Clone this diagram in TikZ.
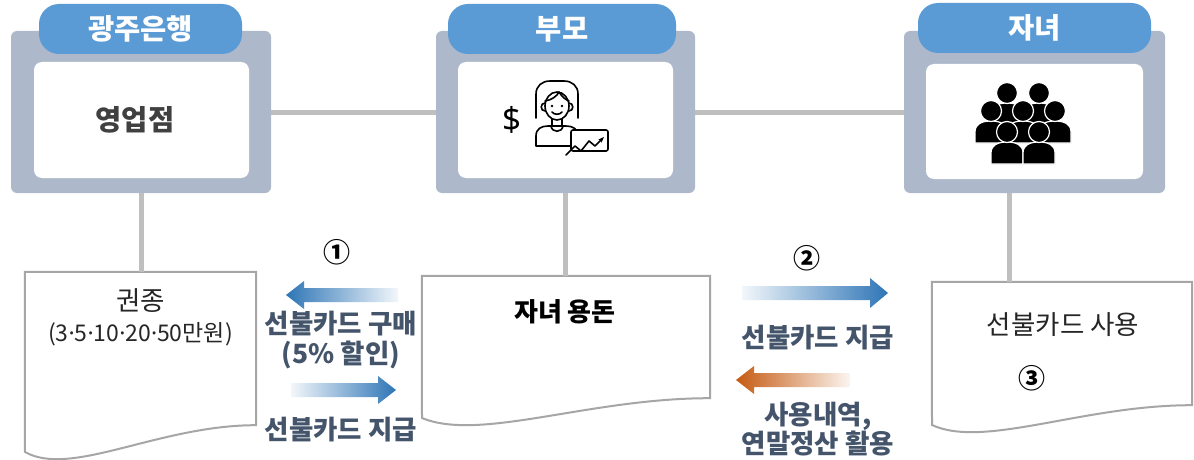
\documentclass[tikz,border=0pt]{standalone}
\usepackage{fontspec}
\newfontfamily\kr{Noto Sans CJK KR}
\newfontfamily\lat{Noto Sans}
\usetikzlibrary{arrows.meta}
\definecolor{boxgrey}{HTML}{ADB9CA}
\definecolor{tabblue}{HTML}{5B9BD5}
\definecolor{linegrey}{HTML}{BFBFBF}
\definecolor{docgrey}{HTML}{A6A6A6}
\definecolor{labelc}{HTML}{44546A}
\definecolor{arrblue}{HTML}{2E75B6}
\definecolor{arrorange}{HTML}{C55A11}
\definecolor{textdark}{HTML}{404040}
\tikzset{
  greybox/.style={fill=boxgrey, rounded corners=6pt, inner sep=0pt},
  tabbox/.style={fill=tabblue, rounded corners=20pt, inner sep=0pt, text=white,
    font=\kr\bfseries\fontsize{28.5}{32}\selectfont},
  innerbox/.style={fill=white, rounded corners=8pt, inner sep=0pt},
  boxtext/.style={text=textdark, font=\kr\bfseries\fontsize{28.5}{32}\selectfont},
  docbox/.style={inner sep=0pt},
  docline/.style={draw=docgrey, line width=2pt, fill=white},
  doctext/.style={font=\kr\fontsize{26.5}{31}\selectfont, text=black!85, align=center},
  docbold/.style={font=\kr\bfseries\fontsize{26}{31}\selectfont, text=black},
  label/.style={font=\kr\bfseries\fontsize{26.5}{30}\selectfont, text=labelc, align=center},
  stepnum/.style={font=\kr\bfseries\fontsize{27}{27}\selectfont, text=black},
  link/.style={draw=linegrey, line width=5pt},
  ic/.style={draw=black, line width=1.6pt, line cap=round, line join=round},
  person/.pic={
    \fill[black, draw=white, line width=1.2pt] (-16,32) -- (-16,21) .. controls (-16,13) and (-9,10) .. (0,10) .. controls (9,10) and (16,13) .. (16,21) -- (16,32) -- cycle;
    \fill[black, draw=white, line width=1.2pt] (0,0) circle (10.5);
  }
}
\newcommand\md{{\lat\mdseries·}}
\begin{document}
\begin{tikzpicture}[x=1pt,y=-1pt]
\useasboundingbox (0,0) rectangle (1194,460);
\fill[white] (0,0) rectangle (1194,460);

% grey boxes
\node[greybox, minimum width=260pt, minimum height=162pt] (b1) at (141,112) {};
\node[greybox, minimum width=259pt, minimum height=162pt] (b2) at (565.5,112) {};
\node[greybox, minimum width=261pt, minimum height=162pt] (b3) at (1034.5,112) {};

% tabs
\node[tabbox, minimum width=203pt, minimum height=50pt] (t1) at (140.5,29) {광주은행};
\node[tabbox, minimum width=228pt, minimum height=50pt] (t2) at (562,29) {부모};
\node[tabbox, minimum width=233pt, minimum height=50pt] (t3) at (1034.5,28) {자녀};

% inner boxes
\node[innerbox, minimum width=215pt, minimum height=116pt] (i1) at (141.5,120) {};
\node[innerbox, minimum width=215pt, minimum height=116pt] (i2) at (565.5,120) {};
\node[innerbox, minimum width=217pt, minimum height=115pt] (i3) at (1034.5,121.5) {};
\node[boxtext] (i1t) at (135,120) {영업점};

% horizontal links
\draw[link] (b1.east) -- (b2.west);
\draw[link] (b2.east) -- (b3.west);

% documents
\node[docbox, minimum width=231pt, minimum height=153pt] (d1) at (140.5,348.5) {};
\node[docbox, minimum width=288pt, minimum height=122pt] (d2) at (566,337) {};
\node[docbox, minimum width=260pt, minimum height=123pt] (d3) at (1062,343.5) {};
\draw[docline] (d1.north west) -- (d1.north east) -- (d1.south east) .. controls (159,425) and (71,478) .. (25,452) -- cycle;
\draw[docline] (d2.north west) -- (d2.north east) -- (d2.south east) .. controls (589,398) and (480,442) .. (422,418) -- cycle;
\draw[docline] (d3.north west) -- (d3.north east) -- (d3.south east) .. controls (1083,405) and (984,449) .. (932,425) -- cycle;

% vertical links
\coordinate (v3) at (1009,193);
\draw[link] (b1.south) -- (b1.south |- d1.north);
\draw[link] (b2.south) -- (b2.south |- d2.north);
\draw[link] (v3) -- (v3 |- d3.north);

% document texts
\node[doctext] (d1t) at (140.5,317.5) {권종\\{\fontsize{23}{31}\selectfont(3\md5\md10\md20\md50만원)}};
\node[docbold] (d2t) at (565,312) {자녀 용돈};
\node[doctext] (d3t) at (1063,325) {선불카드 사용};
\node[stepnum] (n3) at (1032,378) {③};

% step numbers
\node[stepnum] (n1) at (337,252) {①};
\node[stepnum] (n2) at (807,258) {②};

% block arrows
\coordinate (a1tip) at (286,295);
\shade[left color=arrblue, right color=arrblue!6] (a1tip) -- (304,281) -- (304,288) -- (398,288) -- (398,302) -- (304,302) -- (304,309) -- cycle;
\coordinate (a2tip) at (396,390);
\shade[left color=arrblue!6, right color=arrblue] (a2tip) -- (378,376) -- (378,383) -- (291,383) -- (291,397) -- (378,397) -- (378,404) -- cycle;
\coordinate (a3tip) at (888,293);
\shade[left color=arrblue!6, right color=arrblue] (a3tip) -- (870,278) -- (870,286) -- (742,286) -- (742,300) -- (870,300) -- (870,308) -- cycle;
\coordinate (a4tip) at (736,380);
\shade[left color=arrorange, right color=arrorange!6] (a4tip) -- (754,366) -- (754,373) -- (850,373) -- (850,387) -- (754,387) -- (754,394) -- cycle;

% arrow labels
\node[label] (l1) at (341,340) {선불카드 구매\\(5\% 할인)};
\node[label] (l2) at (341,430) {선불카드 지급};
\node[label] (l3) at (818,338) {선불카드 지급};
\node[label, font=\kr\bfseries\fontsize{26.5}{28}\selectfont] (l4) at (818,429) {사용내역,\\연말정산 활용};

% parent icon
\node[font=\lat\bfseries\fontsize{33}{33}\selectfont] (dollar) at (512,120) {\$};
\draw[ic] (536,118) -- (536,94) .. controls (536,86) and (542,81) .. (550,81) -- (564,81) .. controls (572,81) and (578,86) .. (578,94) -- (578,118);
\draw[ic] (545,103) .. controls (540,103) and (540,111) .. (545,111);
\draw[ic] (569,103) .. controls (574,103) and (574,111) .. (569,111);
\draw[ic, fill=white] (557,106) ellipse (12 and 14);
\draw[ic] (545,101) .. controls (552,100) and (557,96) .. (559,92) .. controls (562,97) and (566,100) .. (569,101);
\fill (552,106) circle (1.4);
\fill (562,106) circle (1.4);
\draw[ic] (552,112) .. controls (554,115) and (560,115) .. (562,112);
\draw[ic] (552,119) -- (552,126);
\draw[ic] (562,119) -- (562,126);
\draw[ic, fill=white] (536,146) -- (536,136) .. controls (536,129) and (541,126) .. (548,126) -- (566,126) .. controls (573,126) and (578,129) .. (578,136) -- (578,146) -- cycle;
\draw[ic] (551,126) .. controls (552,133) and (562,133) .. (563,126);
\draw[ic, fill=white, rounded corners=2pt] (571,130) rectangle (608,151);
\draw[ic, -{Stealth[length=6pt]}] (566,155) -- (575,146) -- (581,151) -- (589,141) -- (595,146) -- (604,137);

% children icon
\pic at (1007,93) {person};
\pic at (1039,93) {person};
\pic at (991,111) {person};
\pic at (1023,111) {person};
\pic at (1055,111) {person};
\pic at (1007,132) {person};
\pic at (1039,132) {person};
\end{tikzpicture}
\end{document}
